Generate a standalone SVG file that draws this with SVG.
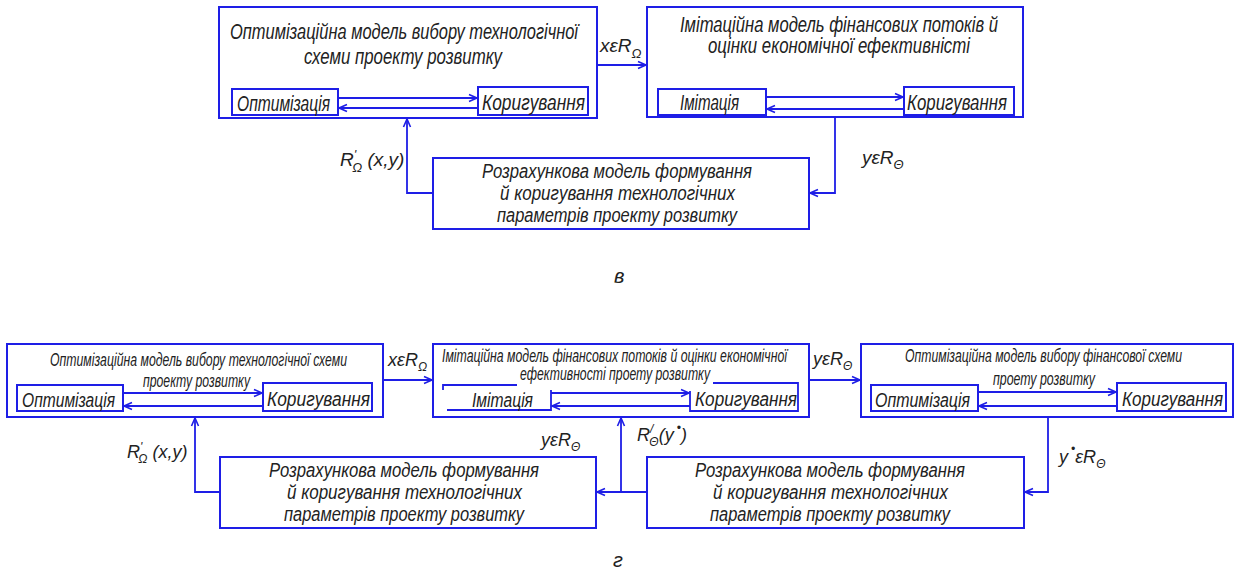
<svg xmlns="http://www.w3.org/2000/svg" width="1234" height="574" viewBox="0 0 1234 574">
<style>
.b{fill:none;stroke:#1e1ee6;stroke-width:2}
.c{fill:none;stroke:#1e1ee6;stroke-width:1.8}
text{font-family:"Liberation Sans",Arial,sans-serif;font-style:italic;fill:#222}
.t1{font-size:22px}
.t2{font-size:18px}
.t3{font-size:20px}
.lb{font-size:19px}
.lb2{font-size:18px}
.sb{font-size:13px}
.sb2{font-size:12px}
</style>
<defs>
<marker id="ah" markerUnits="userSpaceOnUse" markerWidth="12" markerHeight="10" refX="9" refY="5" orient="auto" overflow="visible">
<path d="M1,1.5 L9,5 L1,8.5" fill="none" stroke="#1e1ee6" stroke-width="1.6"/>
</marker>
</defs>
<rect width="1234" height="574" fill="#fff"/>

<!-- top diagram -->
<g id="nodeA">
<rect class="b" x="219" y="7" width="378" height="111"/>
<text class="t1" x="230" y="39" textLength="348" lengthAdjust="spacingAndGlyphs">Оптимізаційна модель вибору технологічної</text>
<text class="t1" x="304" y="64" textLength="198" lengthAdjust="spacingAndGlyphs">схеми проекту розвитку</text>
<rect class="b" x="232" y="89" width="106" height="26"/>
<text class="t1" x="237" y="111" textLength="93" lengthAdjust="spacingAndGlyphs">Оптимізація</text>
<rect class="b" x="478" y="87" width="110" height="28"/>
<text class="t1" x="482" y="110" textLength="103" lengthAdjust="spacingAndGlyphs">Коригування</text>
</g>
<g id="nodeB">
<rect class="b" x="647" y="7" width="376" height="110"/>
<text class="t1" x="680" y="32" textLength="318" lengthAdjust="spacingAndGlyphs">Імітаційна модель фінансових потоків й</text>
<text class="t1" x="708" y="53" textLength="262" lengthAdjust="spacingAndGlyphs">оцінки економічної ефективністі</text>
<rect class="b" x="658" y="89" width="108" height="26"/>
<text class="t1" x="680" y="110" textLength="59" lengthAdjust="spacingAndGlyphs">Імітація</text>
<rect class="b" x="904" y="87" width="110" height="28"/>
<text class="t1" x="907" y="110" textLength="100" lengthAdjust="spacingAndGlyphs">Коригування</text>
</g>
<g id="nodeC">
<rect class="b" x="433" y="158" width="376" height="71"/>
<text class="t3" x="482" y="178" textLength="270" lengthAdjust="spacingAndGlyphs">Розрахункова модель формування</text>
<text class="t3" x="500" y="200" textLength="235" lengthAdjust="spacingAndGlyphs">й коригування технологічних</text>
<text class="t3" x="497" y="222" textLength="240" lengthAdjust="spacingAndGlyphs">параметрів проекту розвитку</text>
</g>

<!-- bottom diagram -->
<g id="nodeD">
<rect class="b" x="7" y="344" width="376" height="73"/>
<text class="t2" x="50" y="366" textLength="297" lengthAdjust="spacingAndGlyphs">Оптимізаційна модель вибору технологічної схеми</text>
<text class="t2" x="143" y="387" textLength="107" lengthAdjust="spacingAndGlyphs">проекту розвитку</text>
<rect class="b" x="17" y="385" width="106" height="26"/>
<text class="t3" x="22" y="407" textLength="93" lengthAdjust="spacingAndGlyphs">Оптимізація</text>
<rect class="b" x="263" y="383" width="109" height="28"/>
<text class="t3" x="267" y="406" textLength="103" lengthAdjust="spacingAndGlyphs">Коригування</text>
</g>
<g id="nodeE">
<rect class="b" x="433" y="344" width="376" height="73"/>
<text class="t2" x="442" y="362" textLength="345" lengthAdjust="spacingAndGlyphs">Імітаційна модель фінансових потоків й оцінки економічної</text>
<text class="t2" x="520" y="380" textLength="190" lengthAdjust="spacingAndGlyphs">ефективності проету розвитку</text>
<path class="c" d="M443,390 V385 H517 M447,410 H551 V390"/>
<text class="t3" x="472" y="407" textLength="61" lengthAdjust="spacingAndGlyphs">Імітація</text>
<path class="c" d="M713,383 H798 V411 H690 V391"/>
<text class="t3" x="695" y="406" textLength="102" lengthAdjust="spacingAndGlyphs">Коригування</text>
</g>
<g id="nodeF">
<rect class="b" x="861" y="344" width="372" height="73"/>
<text class="t2" x="905" y="362" textLength="277" lengthAdjust="spacingAndGlyphs">Оптимізаційна модель вибору фінансової схеми</text>
<text class="t2" x="993" y="385" textLength="102" lengthAdjust="spacingAndGlyphs">проету розвитку</text>
<rect class="b" x="871" y="385" width="107" height="26"/>
<text class="t3" x="875" y="407" textLength="95" lengthAdjust="spacingAndGlyphs">Оптимізація</text>
<rect class="b" x="1117" y="383" width="109" height="28"/>
<text class="t3" x="1122" y="406" textLength="101" lengthAdjust="spacingAndGlyphs">Коригування</text>
</g>
<g id="nodeG">
<rect class="b" x="220" y="457" width="376" height="71"/>
<text class="t3" x="269" y="477" textLength="270" lengthAdjust="spacingAndGlyphs">Розрахункова модель формування</text>
<text class="t3" x="287" y="499" textLength="235" lengthAdjust="spacingAndGlyphs">й коригування технологічних</text>
<text class="t3" x="284" y="521" textLength="240" lengthAdjust="spacingAndGlyphs">параметрів проекту розвитку</text>
</g>
<g id="nodeH">
<rect class="b" x="647" y="457" width="377" height="71"/>
<text class="t3" x="695" y="477" textLength="270" lengthAdjust="spacingAndGlyphs">Розрахункова модель формування</text>
<text class="t3" x="713" y="499" textLength="235" lengthAdjust="spacingAndGlyphs">й коригування технологічних</text>
<text class="t3" x="710" y="521" textLength="240" lengthAdjust="spacingAndGlyphs">параметрів проекту розвитку</text>
</g>

<g id="connectors">
<path class="c" d="M597,65 H646" marker-end="url(#ah)"/>
<path class="c" d="M338,98 H477" marker-end="url(#ah)"/>
<path class="c" d="M478,108 H339" marker-end="url(#ah)"/>
<path class="c" d="M766,97 H903" marker-end="url(#ah)"/>
<path class="c" d="M904,109 H767" marker-end="url(#ah)"/>
<path class="c" d="M835,117 V193 H810" marker-end="url(#ah)"/>
<path class="c" d="M433,193 H407 V119" marker-end="url(#ah)"/>

<path class="c" d="M123,393 H262" marker-end="url(#ah)"/>
<path class="c" d="M263,406 H124" marker-end="url(#ah)"/>
<path class="c" d="M383,380 H432" marker-end="url(#ah)"/>
<path class="c" d="M551,393 H689" marker-end="url(#ah)"/>
<path class="c" d="M690,406 H552" marker-end="url(#ah)"/>
<path class="c" d="M809,380 H860" marker-end="url(#ah)"/>
<path class="c" d="M978,392 H1116" marker-end="url(#ah)"/>
<path class="c" d="M1117,406 H979" marker-end="url(#ah)"/>
<path class="c" d="M1048,417 V492 H1025" marker-end="url(#ah)"/>
<path class="c" d="M647,492 H597" marker-end="url(#ah)"/>
<path class="c" d="M621,492 V418" marker-end="url(#ah)"/>
<path class="c" d="M220,492 H195 V418" marker-end="url(#ah)"/>
</g>

<g id="labels">
<text class="lb" x="600" y="52">xεR<tspan class="sb" dy="6">Ω</tspan></text>
<text class="lb" x="340" y="166">R<tspan class="sb" dy="-7">'</tspan><tspan class="sb" dx="-4" dy="13">Ω</tspan><tspan dy="-6"> (x,y)</tspan></text>
<text class="lb" x="862" y="164">yεR<tspan class="sb" dy="5">Θ</tspan></text>

<text class="lb2" x="388" y="366">xεR<tspan class="sb2" dy="5">Ω</tspan></text>
<text class="lb2" x="813" y="365">yεR<tspan class="sb2" dy="5">Θ</tspan></text>
<text class="lb2" x="127" y="458">R<tspan class="sb2" dy="-7">'</tspan><tspan class="sb2" dx="-4" dy="12">Ω</tspan><tspan dy="-5"> (x,y)</tspan></text>
<text class="lb2" x="541" y="446">yεR<tspan class="sb2" dy="5">Θ</tspan></text>
<text class="lb2" x="637" y="441">R<tspan class="sb2" dy="-8">/</tspan><tspan class="sb2" dx="-4" dy="13">Θ</tspan><tspan dy="-5">(y</tspan><tspan class="sb2" dx="3" dy="-9">•</tspan><tspan dy="9">)</tspan></text>
<text class="lb2" x="1059" y="463">y<tspan class="sb2" dx="3" dy="-10">•</tspan><tspan dy="10">εR</tspan><tspan class="sb2" dy="5">Θ</tspan></text>

<text class="t3" x="614" y="283">в</text>
<text class="t3" x="613" y="567">г</text>
</g>
</svg>
